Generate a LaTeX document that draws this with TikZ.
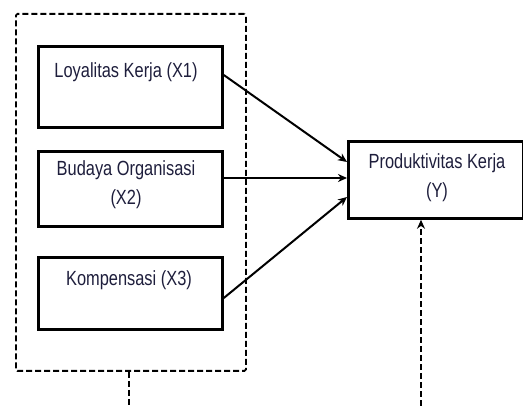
\documentclass[tikz,border=0pt]{standalone}
\usepackage{fontspec}
\setmainfont{Liberation Sans}[FakeStretch=0.8]
\usetikzlibrary{arrows.meta}
\definecolor{txt}{HTML}{1E1E3C}
\begin{document}
\begin{tikzpicture}[x=1pt,y=-1pt,
  varbox/.style={draw, line width=2.8pt, inner sep=0pt, anchor=north west},
  lbl/.style={text=txt, font=\fontsize{20.5}{29}\selectfont, align=center, inner sep=0pt},
  dashline/.style={line width=1.8pt, dash pattern=on 6pt off 3pt},
  arr/.style={line width=2pt, -{Stealth[length=9pt,width=8pt]}}]
\useasboundingbox (0,0) rectangle (523,406);
\node[draw, dashline, rounded corners=1.5pt, anchor=north west, minimum width=230pt, minimum height=357pt, inner sep=0pt] (grp) at (15,13) {};
\node[varbox, minimum width=184pt, minimum height=81pt] (x1) at (37,45) {};
\node[varbox, minimum width=184pt, minimum height=75pt] (x2) at (37,150) {};
\node[varbox, minimum width=184pt, minimum height=72pt] (x3) at (37,256) {};
\node[varbox, minimum width=175pt, minimum height=77pt] (y) at (347,140) {};
\node[lbl] (t1) at (126,72) {Loyalitas Kerja (X1)};
\node[lbl] (t2) at (126,185) {Budaya Organisasi\\(X2)};
\node[lbl] (t3) at (129,280) {Kompensasi (X3)};
\node[lbl] (ty) at (437,178) {Produktivitas Kerja\\(Y)};
\coordinate (g1) at (129,406);
\coordinate (g2) at (421,406);
\draw[arr] (x1.east |- 0,75) -- (y.west |- 0,162);
\draw[arr] (x2.east |- 0,178) -- (y.west |- 0,178);
\draw[arr] (x3.east |- 0,298) -- (y.west |- 0,197);
\draw[dashline] (grp.south -| g1) -- (g1);
\draw[dashline, -{Stealth[length=9pt,width=8pt]}] (g2) -- (y.south -| g2);
\end{tikzpicture}
\end{document}
